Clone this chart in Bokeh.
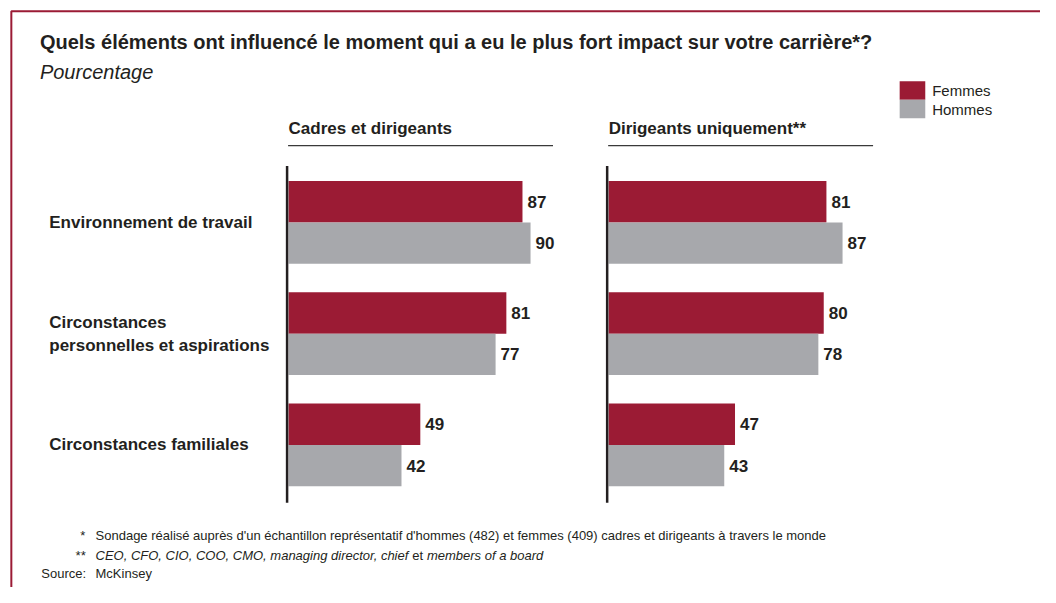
from bokeh.plotting import figure
from bokeh.models import Range1d, ColumnDataSource
from bokeh.transform import dodge
from bokeh.core.properties import value
from bokeh.embed import file_html
from bokeh.resources import INLINE

# ---------------- data ----------------
categories = ["Environnement de travail",
              "Circonstances\npersonnelles et aspirations",
              "Circonstances familiales"]
panel_titles = ["Cadres et dirigeants", "Dirigeants uniquement**"]
series_names = ["Femmes", "Hommes"]
femmes_cadres = [87, 81, 49]
hommes_cadres = [90, 77, 42]
femmes_dirigeants = [81, 80, 47]
hommes_dirigeants = [87, 78, 43]

title_text = "Quels éléments ont influencé le moment qui a eu le plus fort impact sur votre carrière*?"
subtitle_text = "Pourcentage"
note1 = "Sondage réalisé auprès d'un échantillon représentatif d'hommes (482) et femmes (409) cadres et dirigeants à travers le monde"
note2_a = "CEO, CFO, CIO, COO, CMO, managing director, chief"
note2_b = "et"
note2_c = "members of a board"
source_label = "Source:"
source_text = "McKinsey"

# ---------------- style ----------------
RED = "#9b1b34"
GREY = "#a7a8ac"
TXT = "#231f20"
FRAME = "#9b1b35"
FONT = value("Liberation Sans")

W, H = 1040, 587
# layout coordinates of the whole 1056 x 603 chart area
X0, X1 = 0, 1056
Y0, Y1 = 0, 603

p = figure(width=W, height=H, output_backend="svg", toolbar_location=None,
           x_range=Range1d(X0, X1), y_range=Range1d(Y1, Y0),
           min_border=0, outline_line_color=None)
p.axis.visible = False
p.grid.visible = False
p.background_fill_color = "white"

# scales for panels: layout x = origin + K * value
K = 2.73
panel_origin = [292.5, 617.5]
# category index -> layout y: C0 + STEP * i
C0, STEP = 228.0, 114.3
for j, org in enumerate(panel_origin):
    p.extra_x_ranges[f"p{j}"] = Range1d((X0 - org) / K, (X1 - org) / K)
p.extra_y_ranges["cat"] = Range1d((Y1 - C0) / STEP, (Y0 - C0) / STEP)

BAR_H = 42.5 / STEP
OFF = BAR_H / 2

LBL = dict(text_font=FONT, text_font_style="bold", text_font_size="17px",
           text_color=TXT, text_baseline="middle", text_align="left")

panel_data = [(femmes_cadres, hommes_cadres), (femmes_dirigeants, hommes_dirigeants)]
idx = list(range(len(categories)))
cat_range = p.extra_y_ranges["cat"]
for j, (fem, hom) in enumerate(panel_data):
    src = ColumnDataSource(dict(i=idx, fem=fem, hom=hom,
                                fl=[str(v) for v in fem], hl=[str(v) for v in hom]))
    p.hbar(y=dodge("i", -OFF, range=cat_range), left=0, right="fem", height=BAR_H,
           color=RED, line_color=None, source=src, x_range_name=f"p{j}", y_range_name="cat")
    p.hbar(y=dodge("i", OFF, range=cat_range), left=0, right="hom", height=BAR_H,
           color=GREY, line_color=None, source=src, x_range_name=f"p{j}", y_range_name="cat")
    p.text(x="fem", y=dodge("i", -OFF, range=cat_range), text="fl", source=src,
           x_range_name=f"p{j}", y_range_name="cat", x_offset=5, **LBL)
    p.text(x="hom", y=dodge("i", OFF, range=cat_range), text="hl", source=src,
           x_range_name=f"p{j}", y_range_name="cat", x_offset=5, **LBL)
    # panel header and rule
    org = panel_origin[j]
    p.text(x=[org], y=[132], text=[panel_titles[j]], **LBL)
    p.segment(x0=[org - 0.5], x1=[org + 268.5], y0=[149], y1=[149], line_color="#3a3a3a", line_width=1.2)
    # vertical axis line
    p.segment(x0=[org - 1.5], x1=[org - 1.5], y0=[170], y1=[516], line_color=TXT, line_width=2.5)

# category labels
p.text(x=[49.5] * 3, y=[C0 + STEP * i for i in idx], text=categories,
       text_line_height=1.2, **LBL)

# title & subtitle
p.text(x=[40], y=[43], text=[title_text], text_font=FONT, text_font_style="bold",
       text_font_size="20px", text_color=TXT, text_baseline="middle", text_align="left")
p.text(x=[40], y=[73], text=[subtitle_text], text_font=FONT, text_font_style="italic",
       text_font_size="20px", text_color=TXT, text_baseline="middle", text_align="left")

# legend
p.quad(left=[913, 913], right=[939, 939], top=[83, 102], bottom=[102, 121],
       color=[RED, GREY], line_color=None)
p.text(x=[946, 946], y=[92.5, 112], text=series_names, text_font=FONT, text_font_size="15px",
       text_color=TXT, text_baseline="middle", text_align="left")

# footnotes
NOTE = dict(text_font=FONT, text_font_size="13px", text_color=TXT, text_baseline="middle")
p.text(x=[86], y=[550], text=["*"], text_align="right", **NOTE)
p.text(x=[96.5], y=[550], text=[note1], text_align="left", **NOTE)
p.text(x=[86], y=[570], text=["**"], text_align="right", text_font_style="italic", **NOTE)
p.text(x=[96.5], y=[570], text=[note2_a], text_align="left", text_font_style="italic", **NOTE)
p.text(x=[418], y=[570], text=[note2_b], text_align="left", **NOTE)
p.text(x=[433], y=[570], text=[note2_c], text_align="left", text_font_style="italic", **NOTE)
p.text(x=[41.5], y=[589], text=[source_label], text_align="left", **NOTE)
p.text(x=[96.5], y=[589], text=[source_text], text_align="left", **NOTE)

# frame (top and left)
p.line(x=[11, 11, X1], y=[Y1, 11, 11], line_color=FRAME, line_width=2)

open("out.html", "w").write(file_html(p, INLINE))
